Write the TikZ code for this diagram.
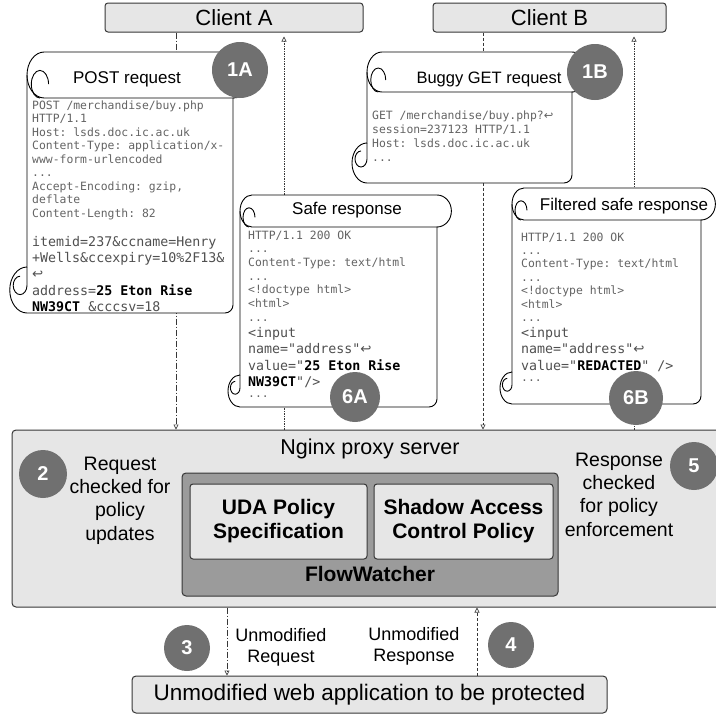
\documentclass[tikz,border=0pt]{standalone}
\usepackage{fontspec}
\setmainfont{Liberation Sans}
\setmonofont{DejaVu Sans Mono}
\newfontfamily\arrowfont{DejaVu Sans}
\usetikzlibrary{arrows.meta}
\definecolor{boxgray}{RGB}{230,230,230}
\definecolor{darkbox}{RGB}{155,155,155}
\definecolor{badgegray}{RGB}{112,112,112}
\definecolor{codegray}{RGB}{100,100,100}
\definecolor{codegraytwo}{RGB}{80,80,80}
\definecolor{linegray}{RGB}{55,55,55}
\newcommand\hk{{\arrowfont ↩}}
\newcommand\drawscroll[5]{%
  \pgfmathsetmacro\scA{0.75*#5}%
  \pgfmathsetmacro\scB{0.9*#5}%
  \pgfmathsetmacro\scC{0.5*\scA}%
  \pgfmathsetmacro\scD{0.6*#5}%
  \pgfmathsetmacro\scE{0.4*\scA}%
  \pgfmathsetmacro\scF{0.4*#5}%
  \filldraw[scrollstyle] ({#1+\scA},#3) -- (#2,#3)
    arc[start angle=270, end angle=450, x radius=\scB, y radius=#5]
    -- (#2,{#4-8}) arc[start angle=0, end angle=90, radius=8]
    -- (#1,#4) arc[start angle=90, end angle=270, x radius=\scA, y radius=#5]
    -- (#1,{#3+#5}) arc[start angle=180, end angle=270, x radius=\scA, y radius=#5] -- cycle;
  \draw[scrollline] (#2,{#3+2*#5}) -- ({#1+\scA},{#3+2*#5})
    arc[start angle=90, end angle=180, x radius=\scA, y radius=#5];
  \draw[scrollline] ({#1+0.75*\scA+\scC},{#3+2*#5-\scD})
    arc[start angle=0, end angle=-270, x radius=\scC, y radius=\scD];
  \draw[scrollline] (#1,{#4-2*#5}) -- (#1,{#4-1.2*#5})
    arc[start angle=0, end angle=270, x radius=\scE, y radius=\scF];
}
\begin{document}
\begin{tikzpicture}[x=1pt,y=-1pt,
  clientbox/.style={draw=linegray, line width=1pt, fill=boxgray, rounded corners=3pt,
    minimum height=29pt, inner sep=0pt, font=\fontsize{22}{26}\selectfont},
  bigbox/.style={draw=linegray, line width=1pt, fill=boxgray, rounded corners=4pt, inner sep=0pt},
  fwbox/.style={draw=linegray, line width=1pt, fill=darkbox, rounded corners=4pt, inner sep=0pt},
  policybox/.style={draw=linegray, line width=1pt, fill=boxgray, rounded corners=3pt, inner sep=0pt,
    align=center, font=\bfseries\fontsize{21}{24}\selectfont},
  badge/.style={circle, fill=badgegray, text=white, inner sep=0pt,
    font=\bfseries\fontsize{20}{24}\selectfont},
  scrollstyle/.style={draw=black, fill=white, line width=0.9pt},
  scrollline/.style={draw=black, line width=0.9pt},
  titletext/.style={inner sep=0pt, font=\fontsize{17}{20}\selectfont},
  sidetext/.style={inner sep=0pt, align=center, font=\fontsize{19.5}{23.3}\selectfont},
  smalllabel/.style={inner sep=0pt, align=center, font=\fontsize{18}{21}\selectfont},
  codesmall/.style={anchor=north west, align=left, inner sep=0pt, text=codegray,
    font=\ttfamily\fontsize{11.4}{13.5}\selectfont},
  codelarge/.style={anchor=north west, align=left, inner sep=0pt, text=codegraytwo,
    font=\ttfamily\fontsize{13.3}{16.3}\selectfont},
  tipstyle/.style={-{Triangle[open,length=5pt,width=5pt]}},
  reqline/.style={draw=linegray, line width=0.6pt, tipstyle, dash pattern=on 6pt off 2pt on 1pt off 2pt},
  reqlineb/.style={draw=linegray, line width=0.6pt, tipstyle, dash pattern=on 3pt off 2pt},
  respline/.style={draw=linegray, line width=0.6pt, tipstyle, dash pattern=on 1.5pt off 1pt},
]
\useasboundingbox (0,0) rectangle (716,715);
\clip (0,0) rectangle (716,715);

% ---- boxes
\node[clientbox, minimum width=258pt] (clientA) at (234,17.5) {Client A};
\node[clientbox, minimum width=233pt] (clientB) at (549.5,17.5) {Client B};
\node[bigbox, minimum width=718pt, minimum height=177pt] (nginx) at (371,518.5) {};
\node[inner sep=0pt, font=\fontsize{21.5}{25}\selectfont] (nginxlabel) at (370,449) {Nginx proxy server};
\node[fwbox, minimum width=376pt, minimum height=123pt] (fw) at (370,534.5) {};
\node[policybox, minimum width=177pt, minimum height=75pt] (uda) at (278.5,521.5) {UDA Policy\\Specification};
\node[policybox, minimum width=179pt, minimum height=75pt] (shadow) at (463.5,521.5) {Shadow Access\\Control Policy};
\node[inner sep=0pt, font=\bfseries\fontsize{21}{24}\selectfont] (fwlabel) at (370,574) {FlowWatcher};
\node[bigbox, minimum width=475pt, minimum height=37pt, font=\fontsize{22.5}{26}\selectfont] (app) at (369.5,694.5) {Unmodified web application to be protected};

\node[sidetext] (reqcheck) at (120,500.5) {Request\\checked for\\policy\\updates};
\node[sidetext] (respcheck) at (619,494.5) {Response\\checked\\for policy\\enforcement};
\node[smalllabel] (unreq) at (281,647.5) {Unmodified\\Request};
\node[smalllabel] (unresp) at (414,646) {Unmodified\\Response};

% ---- connectors
\coordinate (xa) at (176,0);
\coordinate (xb) at (483,0);
\coordinate (xra) at (284,0);
\coordinate (xrb) at (634,0);
\coordinate (xdn) at (227,0);
\coordinate (xup) at (477,0);
\draw[reqline] (xa |- clientA.south) -- (xa |- nginx.north);
\draw[reqlineb] (xb |- clientB.south) -- (xb |- nginx.north);
\draw[respline, shorten >=4pt] (xra |- nginx.north) -- (xra |- clientA.south);
\draw[respline, shorten >=4pt] (xrb |- nginx.north) -- (xrb |- clientB.south);
\draw[reqline] (xdn |- nginx.south) -- (xdn |- app.north);
\draw[reqlineb] (xup |- app.north) -- (xup |- nginx.south);

% ---- scrolls
\drawscroll{27}{233}{52}{313}{23}
\drawscroll{367}{572}{52}{183}{20}
\drawscroll{240}{437}{195}{407}{16}
\drawscroll{512}{701}{188}{404}{16}

\node[titletext] (posttitle) at (127,79) {POST request};
\node[titletext, font=\fontsize{16.5}{20}\selectfont] (gettitle) at (489,79) {Buggy GET request};
\node[titletext] (safetitle) at (347,210) {Safe response};
\node[titletext] (filttitle) at (624,206) {Filtered safe response};

\node[codesmall] (postsmall) at (32,100.5) {POST /merchandise/buy.php\\HTTP/1.1\\Host: lsds.doc.ic.ac.uk\\Content-Type: application/x-\\www-form-urlencoded\\...\\Accept-Encoding: gzip,\\deflate\\Content-Length: 82};
\node[codelarge] (postlarge) at (32,235.8) {itemid=237\&ccname=Henry\\+Wells\&ccexpiry=10\%2F13\&\\\hk\\address=\textcolor{black}{\bfseries 25 Eton Rise}\\\textcolor{black}{\bfseries NW39CT} \&cccsv=18};

\node[codesmall, font=\ttfamily\fontsize{11.4}{14}\selectfont] (getsmall) at (372,110.5) {GET /merchandise/buy.php?\hk\\session=237123 HTTP/1.1\\Host: lsds.doc.ic.ac.uk\\...};

\node[codesmall, font=\ttfamily\fontsize{11.4}{13.7}\selectfont] (safesmall) at (248,230.5) {HTTP/1.1 200 OK\\...\\Content-Type: text/html\\...\\<!doctype html>\\<html>\\...};
\node[codelarge, font=\ttfamily\fontsize{13.3}{16.5}\selectfont] (safelarge) at (248,326.8) {<input\\name="address"\hk\\value="\textcolor{black}{\bfseries 25 Eton Rise}\\\textcolor{black}{\bfseries NW39CT}"/>};
\node[codesmall, anchor=west] (safedots) at (248,397) {...};

\node[codesmall, font=\ttfamily\fontsize{11.4}{13.4}\selectfont] (filtsmall) at (521,232.5) {HTTP/1.1 200 OK\\...\\Content-Type: text/html\\...\\<!doctype html>\\<html>\\...};
\node[codelarge, font=\ttfamily\fontsize{13.3}{16.5}\selectfont] (filtlarge) at (521,326.8) {<input\\name="address"\hk\\value="\textcolor{black}{\bfseries REDACTED}" />};
\node[codesmall, anchor=west] (filtdots) at (521,381) {...};

% ---- badges
\node[badge, minimum size=56pt] (b1a) at (240,70) {1A};
\node[badge, minimum size=56pt] (b1b) at (595,72) {1B};
\node[badge, minimum size=50pt] (b6a) at (355,397) {6A};
\node[badge, minimum size=54pt] (b6b) at (636,398) {6B};
\node[badge, minimum size=48pt] (b2) at (43,474) {2};
\node[badge, minimum size=48pt] (b5) at (694,466) {5};
\node[badge, minimum size=46pt] (b3) at (187,648) {3};
\node[badge, minimum size=46pt] (b4) at (511,645) {4};
\end{tikzpicture}
\end{document}
